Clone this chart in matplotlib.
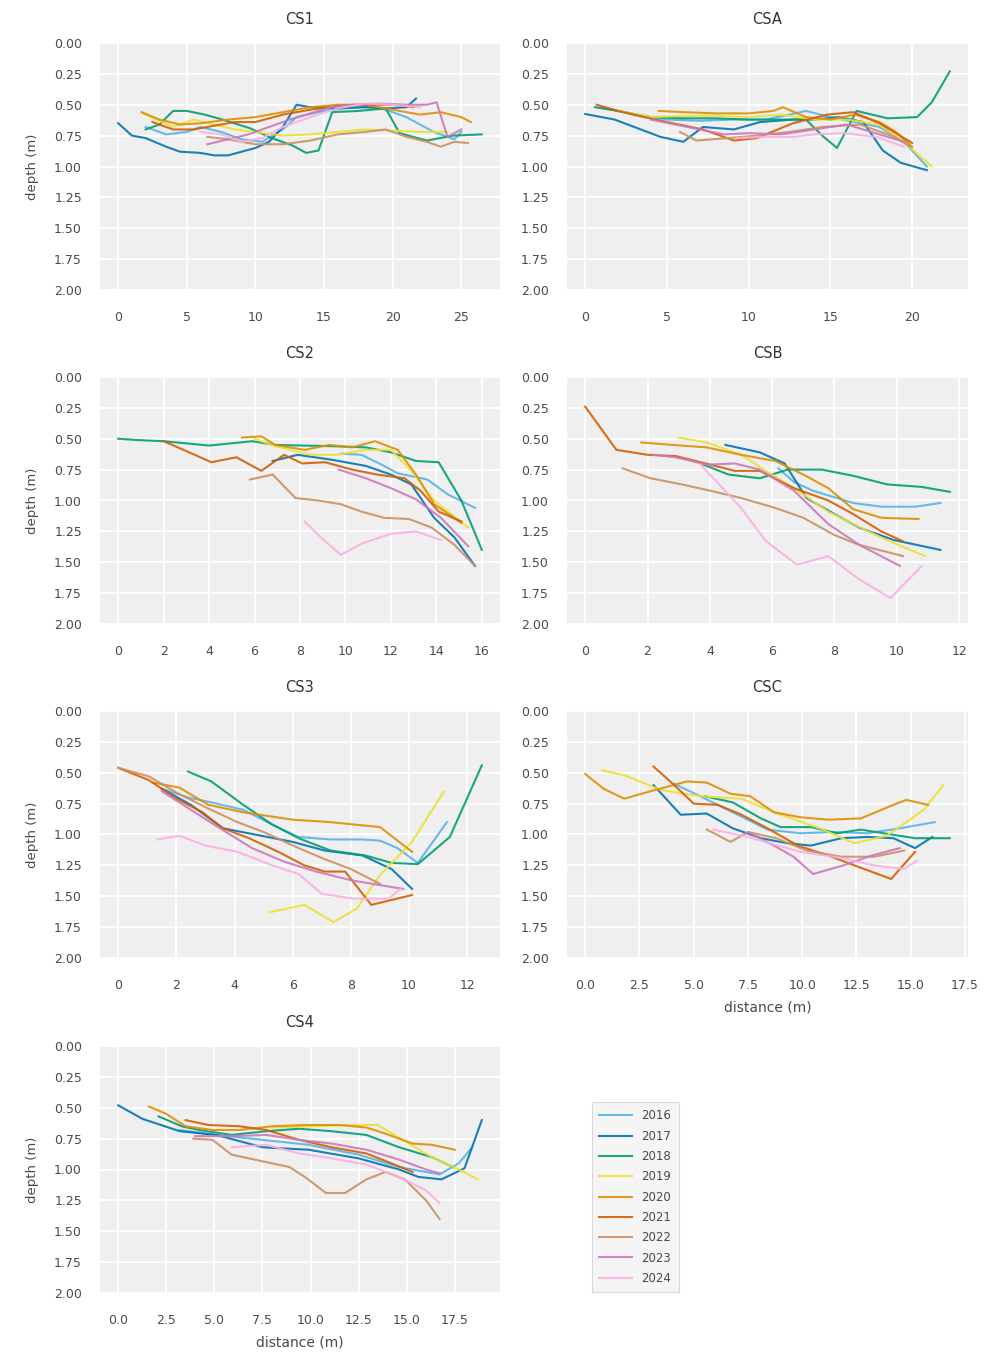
import matplotlib
matplotlib.use("Agg")
import matplotlib.pyplot as plt
from matplotlib.ticker import MultipleLocator, FuncFormatter
from matplotlib.lines import Line2D

YEARS = ["2016", "2017", "2018", "2019", "2020", "2021", "2022", "2023", "2024"]
COLORS = ["#56B4E9", "#0173B2", "#029E73", "#ECE133", "#DE8F05",
          "#D55E00", "#CA9161", "#CC78BC", "#FBAFE4"]
TITLES = ["CS1", "CSA", "CS2", "CSB", "CS3", "CSC", "CS4"]
Y_TICKS = [0.00, 0.25, 0.50, 0.75, 1.00, 1.25, 1.50, 1.75, 2.00]

# ---------------- CS1 ----------------
CS1_2016_X = [2, 3.5, 5, 6, 7.5, 9, 10.5, 12, 13, 15, 17, 19, 21, 23, 24.5, 25]
CS1_2016_D = [0.68, 0.74, 0.72, 0.68, 0.72, 0.78, 0.80, 0.70, 0.60, 0.55, 0.52, 0.52, 0.60, 0.72, 0.78, 0.72]
CS1_2017_X = [0, 1, 2, 3.5, 4.5, 6, 7, 8, 9, 10, 11, 12, 13, 14, 16, 18, 19.5, 21, 21.7]
CS1_2017_D = [0.65, 0.75, 0.77, 0.84, 0.88, 0.89, 0.91, 0.91, 0.88, 0.85, 0.80, 0.68, 0.50, 0.52, 0.53, 0.52, 0.53, 0.52, 0.45]
CS1_2018_X = [2, 3, 4, 5, 6.3, 7.6, 9.6, 11.2, 12.7, 13.7, 14.6, 15.6, 17.5, 19.5, 20.5, 22.5, 24.4, 26.5]
CS1_2018_D = [0.70, 0.66, 0.55, 0.55, 0.58, 0.62, 0.69, 0.77, 0.83, 0.89, 0.87, 0.56, 0.55, 0.53, 0.73, 0.79, 0.75, 0.74]
CS1_2019_X = [1.8, 3, 4, 5.5, 7, 8.5, 10, 12, 14, 16, 18, 20, 22, 24]
CS1_2019_D = [0.57, 0.63, 0.68, 0.62, 0.66, 0.70, 0.72, 0.75, 0.74, 0.72, 0.70, 0.71, 0.72, 0.72]
CS1_2020_X = [1.7, 3, 4.5, 6, 8, 10, 12, 14, 16, 18, 20, 22, 23.5, 25, 25.7]
CS1_2020_D = [0.56, 0.62, 0.66, 0.65, 0.62, 0.60, 0.56, 0.52, 0.50, 0.50, 0.54, 0.58, 0.56, 0.60, 0.64]
CS1_2021_X = [2.5, 4, 5.5, 7, 8.5, 10, 12, 14, 16, 18, 20, 21.5]
CS1_2021_D = [0.64, 0.70, 0.70, 0.67, 0.64, 0.64, 0.58, 0.54, 0.51, 0.50, 0.50, 0.52]
CS1_2022_X = [6.5, 8, 10, 12, 14, 16, 18, 19.5, 21, 22.5, 23.5, 24.5, 25.5]
CS1_2022_D = [0.76, 0.78, 0.82, 0.82, 0.79, 0.74, 0.72, 0.70, 0.76, 0.80, 0.84, 0.80, 0.81]
CS1_2023_X = [6.5, 8, 9.5, 11, 12.5, 14, 15.5, 17, 19, 21, 22.5, 23.2, 24, 25]
CS1_2023_D = [0.82, 0.78, 0.74, 0.68, 0.62, 0.57, 0.52, 0.50, 0.49, 0.50, 0.50, 0.48, 0.76, 0.70]
CS1_2024_X = [6, 7.5, 9, 10.5, 12, 14, 16, 18, 20, 22]
CS1_2024_D = [0.72, 0.74, 0.80, 0.77, 0.68, 0.60, 0.53, 0.49, 0.50, 0.52]

# ---------------- CSA ----------------
CSA_2016_X = [1, 3, 5, 7, 9, 11, 12.5, 13.5, 15, 16.5, 18, 19.5, 20.9]
CSA_2016_D = [0.52, 0.58, 0.62, 0.63, 0.62, 0.62, 0.58, 0.55, 0.60, 0.64, 0.68, 0.80, 1.00]
CSA_2017_X = [0, 1.8, 3, 4.6, 6, 7.2, 9.1, 10.7, 12.7, 14, 15.5, 17, 18.2, 19.3, 20.9]
CSA_2017_D = [0.575, 0.62, 0.68, 0.76, 0.80, 0.68, 0.70, 0.64, 0.62, 0.62, 0.60, 0.64, 0.87, 0.97, 1.03]
CSA_2018_X = [0.6, 2, 4, 6, 8, 10, 12, 13.5, 14.5, 15.4, 16.6, 18.5, 20.3, 21.2, 22.3]
CSA_2018_D = [0.52, 0.55, 0.60, 0.61, 0.61, 0.62, 0.62, 0.62, 0.75, 0.85, 0.55, 0.61, 0.60, 0.48, 0.23]
CSA_2019_X = [2, 4, 6, 8, 10, 12, 14, 16, 18, 19.5, 21.2]
CSA_2019_D = [0.55, 0.60, 0.59, 0.59, 0.60, 0.58, 0.62, 0.62, 0.66, 0.80, 1.00]
CSA_2020_X = [4.5, 6, 8, 10, 11.5, 12.1, 13.5, 15, 16.5, 18, 19, 20]
CSA_2020_D = [0.55, 0.56, 0.57, 0.57, 0.55, 0.52, 0.60, 0.62, 0.58, 0.64, 0.72, 0.84]
CSA_2021_X = [0.7, 2, 3.6, 5, 7.2, 9.1, 10.5, 12.7, 14.8, 16.4, 18, 20]
CSA_2021_D = [0.50, 0.55, 0.60, 0.64, 0.70, 0.79, 0.77, 0.65, 0.58, 0.56, 0.65, 0.81]
CSA_2022_X = [5.8, 6.8, 8.7, 10.5, 12.5, 14.5, 16.8, 18.9, 19.9]
CSA_2022_D = [0.72, 0.79, 0.77, 0.75, 0.72, 0.68, 0.66, 0.76, 0.84]
CSA_2023_X = [4, 5.5, 7, 8.5, 10, 12, 14, 16, 17.5, 19.5]
CSA_2023_D = [0.62, 0.66, 0.70, 0.74, 0.73, 0.74, 0.70, 0.66, 0.72, 0.80]
CSA_2024_X = [9.3, 11, 12.7, 14, 15.8, 17.8, 19.5]
CSA_2024_D = [0.77, 0.76, 0.76, 0.74, 0.73, 0.76, 0.84]

# ---------------- CS2 ----------------
CS2_2016_X = [9.8, 10.7, 11.6, 12.3, 13.6, 14.5, 15.7]
CS2_2016_D = [0.62, 0.63, 0.71, 0.78, 0.83, 0.95, 1.06]
CS2_2017_X = [6.8, 7.9, 9.4, 10.9, 12, 12.9, 13.9, 14.8, 15.7]
CS2_2017_D = [0.68, 0.63, 0.67, 0.72, 0.79, 0.87, 1.14, 1.30, 1.53]
CS2_2018_X = [0, 0.8, 2, 4, 5.9, 6.9, 9.4, 10.9, 12, 13.1, 14.1, 15.1, 16]
CS2_2018_D = [0.50, 0.51, 0.52, 0.555, 0.52, 0.55, 0.56, 0.57, 0.61, 0.68, 0.69, 1.00, 1.40]
CS2_2019_X = [6, 7.1, 8.5, 9.6, 10.9, 12, 12.9, 13.9, 15.4]
CS2_2019_D = [0.50, 0.57, 0.63, 0.63, 0.59, 0.59, 0.76, 1.00, 1.22]
CS2_2020_X = [5.45, 6.3, 6.9, 8.2, 9.3, 10.3, 11.3, 12.3, 13.1, 13.9, 15.1]
CS2_2020_D = [0.49, 0.48, 0.55, 0.59, 0.55, 0.57, 0.52, 0.59, 0.79, 1.03, 1.18]
CS2_2021_X = [2, 3, 4.1, 5.2, 6.3, 7.3, 8.1, 9.1, 10.3, 11.4, 12.6, 13.3, 14.1, 15.1]
CS2_2021_D = [0.52, 0.60, 0.69, 0.65, 0.76, 0.63, 0.70, 0.69, 0.75, 0.79, 0.82, 0.92, 1.09, 1.17]
CS2_2022_X = [5.8, 6.8, 7.8, 8.8, 9.8, 10.7, 11.7, 12.8, 13.8, 14.8, 15.7]
CS2_2022_D = [0.83, 0.79, 0.98, 1.00, 1.03, 1.09, 1.14, 1.15, 1.22, 1.36, 1.53]
CS2_2023_X = [9.7, 10.9, 12, 13.1, 14.2, 15.4]
CS2_2023_D = [0.75, 0.82, 0.90, 0.99, 1.14, 1.37]
CS2_2024_X = [8.2, 9.1, 9.8, 10.7, 12, 13.1, 14.2]
CS2_2024_D = [1.17, 1.33, 1.44, 1.35, 1.27, 1.25, 1.32]

# ---------------- CSB ----------------
CSB_2016_X = [6.2, 6.7, 7.3, 8.6, 9.5, 10.6, 11.4]
CSB_2016_D = [0.74, 0.85, 0.92, 1.02, 1.05, 1.05, 1.02]
CSB_2017_X = [4.5, 5.6, 6.4, 7.1, 8, 8.8, 9.9, 11.4]
CSB_2017_D = [0.55, 0.61, 0.70, 0.98, 1.11, 1.22, 1.32, 1.40]
CSB_2018_X = [3.8, 4.6, 5.6, 6.5, 7.6, 8.6, 9.7, 10.8, 11.7]
CSB_2018_D = [0.71, 0.79, 0.82, 0.75, 0.75, 0.80, 0.87, 0.89, 0.93]
CSB_2019_X = [3, 3.9, 5, 5.8, 6.7, 7.8, 8.6, 9.5, 10.9]
CSB_2019_D = [0.49, 0.53, 0.63, 0.76, 0.90, 1.09, 1.19, 1.30, 1.45]
CSB_2020_X = [1.8, 2.8, 3.9, 5, 6.1, 7, 7.8, 8.6, 9.5, 10.7]
CSB_2020_D = [0.53, 0.55, 0.57, 0.63, 0.68, 0.79, 0.90, 1.07, 1.14, 1.15]
CSB_2021_X = [0, 1, 2, 2.9, 3.7, 4.8, 5.6, 6.7, 7.8, 8.6, 9.5, 10.2]
CSB_2021_D = [0.24, 0.59, 0.63, 0.64, 0.69, 0.76, 0.76, 0.90, 1.00, 1.11, 1.25, 1.33]
CSB_2022_X = [1.2, 2.1, 3.1, 4, 5, 6.1, 7, 8, 8.8, 10.2]
CSB_2022_D = [0.74, 0.82, 0.87, 0.92, 0.98, 1.06, 1.14, 1.28, 1.36, 1.45]
CSB_2023_X = [2.2, 2.9, 3.9, 4.8, 5.6, 6.7, 7.8, 8.8, 10.1]
CSB_2023_D = [0.63, 0.65, 0.71, 0.70, 0.75, 0.92, 1.19, 1.36, 1.53]
CSB_2024_X = [3.7, 4.3, 5, 5.8, 6.8, 7.8, 8.8, 9.8, 10.8]
CSB_2024_D = [0.71, 0.87, 1.06, 1.33, 1.52, 1.45, 1.64, 1.79, 1.53]

# ---------------- CS3 ----------------
CS3_2016_X = [1.5, 2.4, 3.2, 4.3, 5.3, 6.2, 7.3, 8.4, 9, 9.6, 10.3, 11.3]
CS3_2016_D = [0.63, 0.70, 0.74, 0.80, 0.92, 1.02, 1.04, 1.04, 1.05, 1.11, 1.23, 0.90]
CS3_2017_X = [1.5, 2.5, 3.6, 4.7, 6, 7.1, 8.4, 9.4, 10.1]
CS3_2017_D = [0.63, 0.76, 0.95, 1.00, 1.06, 1.13, 1.17, 1.28, 1.44]
CS3_2018_X = [2.4, 3.2, 4.3, 5.3, 6.2, 7.3, 8.5, 9.4, 10.3, 11.4, 12.5]
CS3_2018_D = [0.49, 0.57, 0.76, 0.92, 1.03, 1.13, 1.17, 1.23, 1.24, 1.02, 0.44]
CS3_2019_X = [5.2, 6.4, 7.4, 8.2, 9, 10.1, 11.2]
CS3_2019_D = [1.63, 1.57, 1.71, 1.60, 1.33, 1.06, 0.65]
CS3_2020_X = [1.2, 2.1, 3.1, 4.3, 6, 7.3, 9, 10.1]
CS3_2020_D = [0.58, 0.62, 0.76, 0.82, 0.88, 0.90, 0.94, 1.14]
CS3_2021_X = [0, 1.06, 2, 2.9, 3.6, 4.5, 5.5, 6.4, 7.1, 7.8, 8.7, 10.1]
CS3_2021_D = [0.46, 0.56, 0.71, 0.82, 0.95, 1.03, 1.14, 1.25, 1.30, 1.30, 1.57, 1.49]
CS3_2022_X = [0, 1.06, 2, 3.1, 4.1, 5, 6.2, 7.1, 8, 9]
CS3_2022_D = [0.46, 0.53, 0.66, 0.79, 0.90, 0.98, 1.11, 1.20, 1.28, 1.40]
CS3_2023_X = [1.5, 2.5, 3.5, 4.6, 5.7, 6.8, 8, 9, 9.8]
CS3_2023_D = [0.65, 0.80, 0.95, 1.11, 1.22, 1.30, 1.37, 1.41, 1.44]
CS3_2024_X = [1.35, 2.1, 3, 4.1, 5.3, 6.2, 7, 8.1, 9.3, 9.7]
CS3_2024_D = [1.04, 1.01, 1.09, 1.14, 1.25, 1.32, 1.48, 1.52, 1.52, 1.44]

# ---------------- CSC ----------------
CSC_2016_X = [4.1, 5.3, 6.8, 8.4, 9.9, 11.5, 13, 14.5, 16.1]
CSC_2016_D = [0.59, 0.69, 0.82, 0.96, 0.99, 0.98, 0.99, 0.95, 0.90]
CSC_2017_X = [3.15, 4.4, 5.6, 6.8, 8.1, 9.3, 10.4, 11.8, 13, 14.2, 15.2, 16]
CSC_2017_D = [0.60, 0.84, 0.83, 0.95, 1.03, 1.07, 1.09, 1.03, 1.02, 1.03, 1.11, 1.02]
CSC_2018_X = [5.5, 6.8, 8.1, 9, 10.4, 11.6, 12.7, 14.1, 15.2, 16.8]
CSC_2018_D = [0.69, 0.74, 0.87, 0.94, 0.94, 0.99, 0.96, 1.00, 1.03, 1.03]
CSC_2019_X = [0.77, 1.8, 3.5, 5.3, 7.2, 9, 10.8, 12.4, 13.9, 15.6, 16.5]
CSC_2019_D = [0.48, 0.52, 0.64, 0.69, 0.71, 0.84, 0.95, 1.07, 1.01, 0.80, 0.60]
CSC_2020_X = [0, 0.85, 1.8, 3, 4.7, 5.6, 6.7, 7.6, 8.7, 9.9, 11.2, 12.7, 14.2, 14.8, 15.8]
CSC_2020_D = [0.51, 0.63, 0.71, 0.65, 0.57, 0.58, 0.67, 0.69, 0.82, 0.86, 0.88, 0.87, 0.76, 0.72, 0.76]
CSC_2021_X = [3.15, 4.1, 5, 6.1, 7.2, 8.4, 9.8, 11.2, 12.4, 14.1, 15.2]
CSC_2021_D = [0.45, 0.60, 0.75, 0.76, 0.84, 0.95, 1.09, 1.17, 1.25, 1.36, 1.14]
CSC_2022_X = [5.6, 6.7, 7.5, 8.8, 10.2, 11.8, 13.3, 14.7]
CSC_2022_D = [0.96, 1.06, 0.98, 1.03, 1.13, 1.18, 1.18, 1.13]
CSC_2023_X = [7.5, 8.7, 9.6, 10.5, 11.9, 13.2, 14.5]
CSC_2023_D = [0.98, 1.09, 1.18, 1.32, 1.25, 1.17, 1.11]
CSC_2024_X = [5.9, 7.5, 9.9, 11.8, 13.3, 14.7, 15.3]
CSC_2024_D = [0.96, 1.02, 1.14, 1.19, 1.25, 1.28, 1.21]

# ---------------- CS4 ----------------
CS4_2016_X = [3.2, 5.1, 7.5, 9.9, 12.5, 14.6, 16.7, 17.7, 18.4]
CS4_2016_D = [0.68, 0.72, 0.76, 0.80, 0.88, 0.98, 1.04, 0.95, 0.82]
CS4_2017_X = [0, 1.26, 3.2, 5.1, 7.5, 9.9, 12.5, 14.6, 15.6, 16.8, 18, 18.9]
CS4_2017_D = [0.48, 0.59, 0.69, 0.72, 0.82, 0.84, 0.91, 1.00, 1.06, 1.08, 0.99, 0.60]
CS4_2018_X = [2.1, 3.3, 4.2, 5.9, 7.7, 9.4, 11.1, 12.9, 14.6, 16.3, 17.4]
CS4_2018_D = [0.57, 0.65, 0.68, 0.72, 0.69, 0.67, 0.69, 0.72, 0.82, 0.90, 0.98]
CS4_2019_X = [8, 10, 12, 13.5, 14.9, 16.3, 17.7, 18.7]
CS4_2019_D = [0.66, 0.65, 0.64, 0.64, 0.77, 0.90, 1.00, 1.08]
CS4_2020_X = [1.6, 2.5, 3.5, 4.9, 6.3, 8, 9.7, 11.5, 12.9, 13.9, 15.3, 16.3, 17.5]
CS4_2020_D = [0.49, 0.55, 0.65, 0.68, 0.68, 0.65, 0.64, 0.64, 0.66, 0.71, 0.79, 0.80, 0.84]
CS4_2021_X = [3.5, 4.7, 6.3, 7.7, 9.4, 11.1, 12.9, 14.2, 15.3]
CS4_2021_D = [0.60, 0.64, 0.65, 0.68, 0.76, 0.82, 0.87, 0.95, 1.02]
CS4_2022_X = [3.9, 4.9, 5.9, 7.7, 8.9, 9.7, 10.8, 11.8, 12.9, 13.9, 14.9, 16, 16.7]
CS4_2022_D = [0.75, 0.76, 0.88, 0.94, 0.98, 1.06, 1.19, 1.19, 1.08, 1.02, 1.08, 1.25, 1.40]
CS4_2023_X = [4, 5.9, 7.7, 9.4, 11.1, 12.9, 14.6, 16, 16.7]
CS4_2023_D = [0.73, 0.73, 0.72, 0.76, 0.79, 0.84, 0.92, 1.00, 1.03]
CS4_2024_X = [5.9, 7.7, 9.4, 11.1, 12.9, 14.6, 16, 16.7]
CS4_2024_D = [0.82, 0.80, 0.87, 0.91, 0.96, 1.06, 1.17, 1.27]

PANELS = {
    "CS1": [(CS1_2016_X, CS1_2016_D), (CS1_2017_X, CS1_2017_D), (CS1_2018_X, CS1_2018_D),
            (CS1_2019_X, CS1_2019_D), (CS1_2020_X, CS1_2020_D), (CS1_2021_X, CS1_2021_D),
            (CS1_2022_X, CS1_2022_D), (CS1_2023_X, CS1_2023_D), (CS1_2024_X, CS1_2024_D)],
    "CSA": [(CSA_2016_X, CSA_2016_D), (CSA_2017_X, CSA_2017_D), (CSA_2018_X, CSA_2018_D),
            (CSA_2019_X, CSA_2019_D), (CSA_2020_X, CSA_2020_D), (CSA_2021_X, CSA_2021_D),
            (CSA_2022_X, CSA_2022_D), (CSA_2023_X, CSA_2023_D), (CSA_2024_X, CSA_2024_D)],
    "CS2": [(CS2_2016_X, CS2_2016_D), (CS2_2017_X, CS2_2017_D), (CS2_2018_X, CS2_2018_D),
            (CS2_2019_X, CS2_2019_D), (CS2_2020_X, CS2_2020_D), (CS2_2021_X, CS2_2021_D),
            (CS2_2022_X, CS2_2022_D), (CS2_2023_X, CS2_2023_D), (CS2_2024_X, CS2_2024_D)],
    "CSB": [(CSB_2016_X, CSB_2016_D), (CSB_2017_X, CSB_2017_D), (CSB_2018_X, CSB_2018_D),
            (CSB_2019_X, CSB_2019_D), (CSB_2020_X, CSB_2020_D), (CSB_2021_X, CSB_2021_D),
            (CSB_2022_X, CSB_2022_D), (CSB_2023_X, CSB_2023_D), (CSB_2024_X, CSB_2024_D)],
    "CS3": [(CS3_2016_X, CS3_2016_D), (CS3_2017_X, CS3_2017_D), (CS3_2018_X, CS3_2018_D),
            (CS3_2019_X, CS3_2019_D), (CS3_2020_X, CS3_2020_D), (CS3_2021_X, CS3_2021_D),
            (CS3_2022_X, CS3_2022_D), (CS3_2023_X, CS3_2023_D), (CS3_2024_X, CS3_2024_D)],
    "CSC": [(CSC_2016_X, CSC_2016_D), (CSC_2017_X, CSC_2017_D), (CSC_2018_X, CSC_2018_D),
            (CSC_2019_X, CSC_2019_D), (CSC_2020_X, CSC_2020_D), (CSC_2021_X, CSC_2021_D),
            (CSC_2022_X, CSC_2022_D), (CSC_2023_X, CSC_2023_D), (CSC_2024_X, CSC_2024_D)],
    "CS4": [(CS4_2016_X, CS4_2016_D), (CS4_2017_X, CS4_2017_D), (CS4_2018_X, CS4_2018_D),
            (CS4_2019_X, CS4_2019_D), (CS4_2020_X, CS4_2020_D), (CS4_2021_X, CS4_2021_D),
            (CS4_2022_X, CS4_2022_D), (CS4_2023_X, CS4_2023_D), (CS4_2024_X, CS4_2024_D)],
}
X_STEPS = {"CS1": 5, "CSA": 5, "CS2": 2, "CSB": 2, "CS3": 2, "CSC": 2.5, "CS4": 2.5}
DECIMAL_X = ("CSC", "CS4")

plt.rcParams["font.family"] = ["DejaVu Sans"]
TEXT = "#4a4a4a"

W, H = 994, 1353
fig = plt.figure(figsize=(W / 100, H / 100), dpi=100)

col_left = [100, 567]
col_w = [400, 401]
row_top = [43, 377, 711, 1046]
ax_h = 247

for i, name in enumerate(TITLES):
    r, c = divmod(i, 2)
    rect = [col_left[c] / W, 1 - (row_top[r] + ax_h) / H, col_w[c] / W, ax_h / H]
    ax = fig.add_axes(rect)
    ax.set_facecolor("#efefef")
    for s in ax.spines.values():
        s.set_visible(False)
    ax.grid(True, color="white", linewidth=1.3)
    ax.set_axisbelow(True)
    for (xs, ds), col, yr in zip(PANELS[name], COLORS, YEARS):
        ax.plot(xs, ds, color=col, lw=1.5, alpha=0.9, label=yr)
    ax.set_ylim(2.0, 0.0)
    ax.set_yticks(Y_TICKS)
    ax.set_yticklabels([f"{v:.2f}" for v in Y_TICKS])
    ax.xaxis.set_major_locator(MultipleLocator(X_STEPS[name]))
    if name in DECIMAL_X:
        ax.xaxis.set_major_formatter(FuncFormatter(lambda v, p: f"{v:.1f}"))
    ax.tick_params(axis="both", length=0, labelsize=9, labelcolor=TEXT)
    ax.tick_params(axis="y", pad=13)
    ax.tick_params(axis="x", pad=15)
    ax.set_title(name, fontsize=10.5, color="#333333", pad=14)
    if c == 0:
        ax.set_ylabel("depth (m)", fontsize=9.5, color=TEXT, labelpad=11)
    if name in DECIMAL_X:
        ax.set_xlabel("distance (m)", fontsize=10, color=TEXT, labelpad=6)

handles = [Line2D([0], [0], color=col, lw=1.5, alpha=0.9) for col in COLORS]
leg = fig.legend(handles, YEARS, loc="lower left",
                 bbox_to_anchor=(592 / W, 1 - 1292 / H), borderaxespad=0,
                 fontsize=8.5, frameon=True, facecolor="#f3f3f3", edgecolor="#d0d0d0",
                 labelspacing=0.62, handlelength=2.8, borderpad=0.6, labelcolor=TEXT,
                 fancybox=False)
leg.get_frame().set_linewidth(0.8)

fig.savefig("out.png", dpi=100)
